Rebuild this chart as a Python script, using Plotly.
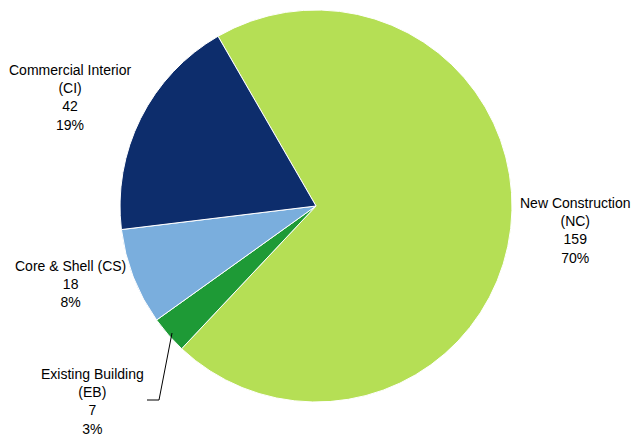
import plotly.graph_objects as go

labels = ["New Construction<br>(NC)", "Existing Building<br>(EB)", "Core & Shell (CS)", "Commercial Interior<br>(CI)"]
values = [159, 7, 18, 42]
colors = ["#B5DF55", "#1E9A36", "#7AAEDD", "#0D2D6C"]

# label anchor positions (pixels in 632x437 canvas)
label_pos = [(575, 230), (92, 401), (70, 284), (70, 97)]

W, H = 632, 437
total = sum(values)

fig = go.Figure(go.Pie(
    labels=labels,
    values=values,
    sort=False,
    direction="clockwise",
    rotation=-30,
    marker=dict(colors=colors, line=dict(color="white", width=1)),
    textinfo="none",
    hoverinfo="label+value+percent",
    domain=dict(x=[120 / W, 512 / W], y=[(H - 402) / H, (H - 10) / H]),
    showlegend=False,
))

for lab, val, (px, py) in zip(labels, values, label_pos):
    pct = round(100 * val / total)
    fig.add_annotation(
        x=px / W, y=1 - py / H, xref="paper", yref="paper",
        text=f"{lab}<br>{val}<br>{pct}%",
        showarrow=False, align="center",
        xanchor="center", yanchor="middle",
        font=dict(family="Liberation Sans, Arial", size=14, color="#000000"),
    )

# leader line for Existing Building
fig.add_shape(type="path", xref="paper", yref="paper",
              path=f"M {172/W} {1-333/H} L {159/W} {1-400/H} L {147/W} {1-400/H}",
              line=dict(color="black", width=1))

fig.update_layout(
    width=W, height=H,
    margin=dict(l=0, r=0, t=0, b=0),
    paper_bgcolor="white", plot_bgcolor="white",
)

fig.write_html("out.html", config={"displayModeBar": False},
               post_script="document.body.style.margin='0';document.body.style.overflow='hidden';")
